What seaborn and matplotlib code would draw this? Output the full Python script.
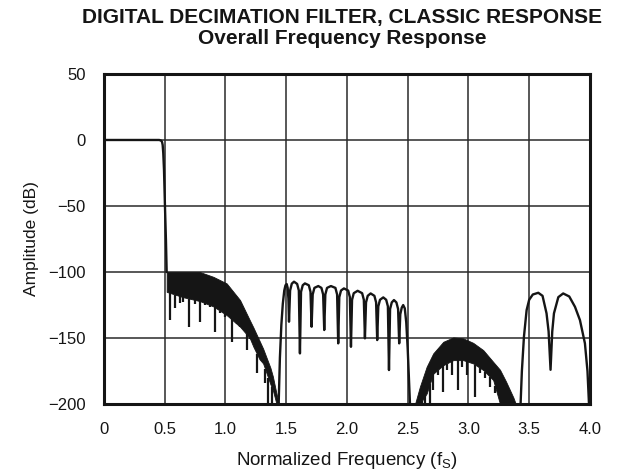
import numpy as np
import pandas as pd
import matplotlib
matplotlib.use('Agg')
import matplotlib.pyplot as plt
import seaborn as sns

# passband and transition edge
pass_f = [0, 0.455, 0.47, 0.478, 0.483, 0.488, 0.494, 0.502, 0.510, 0.516]
pass_db = [0, 0, -0.5, -1.5, -3.8, -10, -22.7, -50.5, -75.8, -100]

# lobes between 1.4 and 2.5 fs
lobe_f = [1.435, 1.448, 1.46, 1.472, 1.484, 1.494, 1.504, 1.512, 1.518, 1.523,
          1.532, 1.546, 1.564, 1.590, 1.604, 1.613,
          1.622, 1.636, 1.654, 1.686, 1.700, 1.709,
          1.718, 1.732, 1.764, 1.790, 1.804, 1.813,
          1.822, 1.836, 1.868, 1.905, 1.919, 1.928,
          1.937, 1.951, 1.975, 2.010, 2.024, 2.033,
          2.042, 2.056, 2.088, 2.125, 2.139, 2.148,
          2.157, 2.171, 2.195, 2.226, 2.240, 2.249,
          2.258, 2.272, 2.299, 2.323, 2.337, 2.346,
          2.355, 2.369, 2.387, 2.407, 2.421, 2.430,
          2.439, 2.451, 2.463, 2.476, 2.488, 2.500, 2.510, 2.519, 2.525]
lobe_db = [-210, -165, -140, -124, -114, -110, -109.1, -112, -120, -137.6,
           -114, -108.8, -107.3, -109, -114, -161.6,
           -115, -110, -108.6, -110, -115, -141.4,
           -117, -112, -110.6, -112, -117, -143.9,
           -117, -112, -110.6, -112, -117, -154,
           -119, -114, -112.4, -114, -119, -156.6,
           -121, -116, -114.2, -116, -121, -150.2,
           -123, -118, -116.2, -118, -123, -151.5,
           -126, -121, -119.2, -121, -126, -174.2,
           -128, -123, -121.2, -123, -128, -154,
           -132, -127, -125, -127.5, -138, -158, -180, -200, -210]

# last two lobes near 3.5 - 4.0 fs
tail_f = [3.425, 3.44, 3.457, 3.479, 3.50, 3.53, 3.575, 3.61, 3.643, 3.66, 3.676,
          3.69, 3.704, 3.74, 3.78, 3.83, 3.877, 3.918, 3.959, 3.98, 3.995]
tail_db = [-210, -175, -149, -128.8, -121, -117, -115.7, -118, -131.3, -145, -174,
           -145, -131.3, -119, -116.2, -118.5, -126.3, -136.4, -154, -175, -205]

# dense ripple band after the cutoff
band1_f = [0.516, 0.55, 0.65, 0.79, 0.90, 1.01, 1.12, 1.20, 1.23, 1.28, 1.31, 1.37, 1.39, 1.42, 1.44]
band1_top = [-100, -100, -100, -100, -103.6, -108.6, -121.2, -136.4, -142, -152, -158, -172.5, -179, -192, -200]
band1_bot = [-115, -116, -119, -122, -126, -132.6, -141.4, -150, -156.6, -166, -169.2, -185, -189.4, -200, -200]
spike1_f = [0.543, 0.584, 0.626, 0.653, 0.702, 0.749, 0.790, 0.831, 0.872, 0.914, 0.955,
            0.996, 1.051, 1.092, 1.119, 1.174, 1.202, 1.257, 1.284, 1.325, 1.352, 1.380]
spike1_db = [-136.4, -127.5, -123.7, -122.5, -141.4, -124, -137.6, -125, -126.3, -145.2, -131.3,
             -133.9, -152.8, -137.6, -140.2, -159.1, -150.2, -176.8, -166.7, -184.3, -200, -200]

# dense ripple dome around 3 fs
band2_f = [2.56, 2.60, 2.656, 2.71, 2.793, 2.875, 2.957, 3.039, 3.122, 3.204, 3.26, 3.31, 3.37, 3.39]
band2_top = [-200, -186.9, -171.7, -161.6, -152.8, -149.5, -150.2, -153.6, -159.1, -168, -174, -183, -195, -200]
band2_bot = [-200, -200, -192, -177, -170.5, -166.7, -166.7, -169.2, -174.2, -181.8, -200, -200, -200, -200]
spike2_f = [2.615, 2.642, 2.683, 2.710, 2.751, 2.793, 2.820, 2.862, 2.916, 2.944, 2.985,
            3.053, 3.095, 3.136, 3.177, 3.218]
spike2_db = [-200, -200, -200, -189.4, -178, -190.7, -174, -178, -189.4, -172, -178,
             -194.5, -176.8, -180, -186.9, -191.9]

x_ticks = [0, 0.5, 1.0, 1.5, 2.0, 2.5, 3.0, 3.5, 4.0]
x_labels = ['0', '0.5', '1.0', '1.5', '2.0', '2.5', '3.0', '3.5', '4.0']
y_ticks = [-200, -150, -100, -50, 0, 50]

sns.set_theme(style='white')
plt.rcParams['font.family'] = ['Liberation Sans', 'DejaVu Sans']
plt.rcParams['mathtext.default'] = 'regular'

curve = pd.concat([
    pd.DataFrame({'f': pass_f, 'db': pass_db, 'seg': 0}),
    pd.DataFrame({'f': lobe_f, 'db': lobe_db, 'seg': 1}),
    pd.DataFrame({'f': tail_f, 'db': tail_db, 'seg': 2}),
])

ink = '#151515'
fig, ax = plt.subplots(figsize=(6.19, 4.71), dpi=100)
fig.subplots_adjust(left=0.168, right=0.953, top=0.843, bottom=0.142)

ax.fill_between(band1_f, band1_top, band1_bot, color=ink, lw=0.6)
ax.vlines(spike1_f, spike1_db, np.interp(spike1_f, band1_f, band1_bot), color=ink, lw=1.6)
ax.fill_between(band2_f, band2_top, band2_bot, color=ink, lw=0.6)
ax.vlines(spike2_f, spike2_db, np.interp(spike2_f, band2_f, band2_bot), color=ink, lw=1.6)

sns.lineplot(data=curve, x='f', y='db', units='seg', estimator=None, sort=False,
             color=ink, lw=1.7, ax=ax, legend=False)

ax.set_xlim(0, 4)
ax.set_ylim(-200, 50)
ax.set_xticks(x_ticks)
ax.set_xticklabels(x_labels)
ax.set_yticks(y_ticks)
ax.grid(True, color='#2a2a2a', lw=1.1)
ax.set_axisbelow(True)
for s in ax.spines.values():
    s.set_color(ink)
    s.set_linewidth(2.2)
ax.tick_params(axis='both', length=0, labelsize=12, colors=ink)
ax.tick_params(axis='x', pad=13)
ax.tick_params(axis='y', pad=13)

ax.set_xlabel('Normalized Frequency (f$_S$)', fontsize=13.5, color=ink, labelpad=9)
ax.set_ylabel('Amplitude (dB)', fontsize=12.5, color=ink, labelpad=7)

fig.text(0.553, 1 - 18 / 471, 'DIGITAL DECIMATION FILTER, CLASSIC RESPONSE',
         ha='center', va='center', fontsize=15, fontweight='bold', color=ink)
fig.text(0.553, 1 - 39 / 471, 'Overall Frequency Response',
         ha='center', va='center', fontsize=15, fontweight='bold', color=ink)

fig.savefig('out.png', dpi=100)
